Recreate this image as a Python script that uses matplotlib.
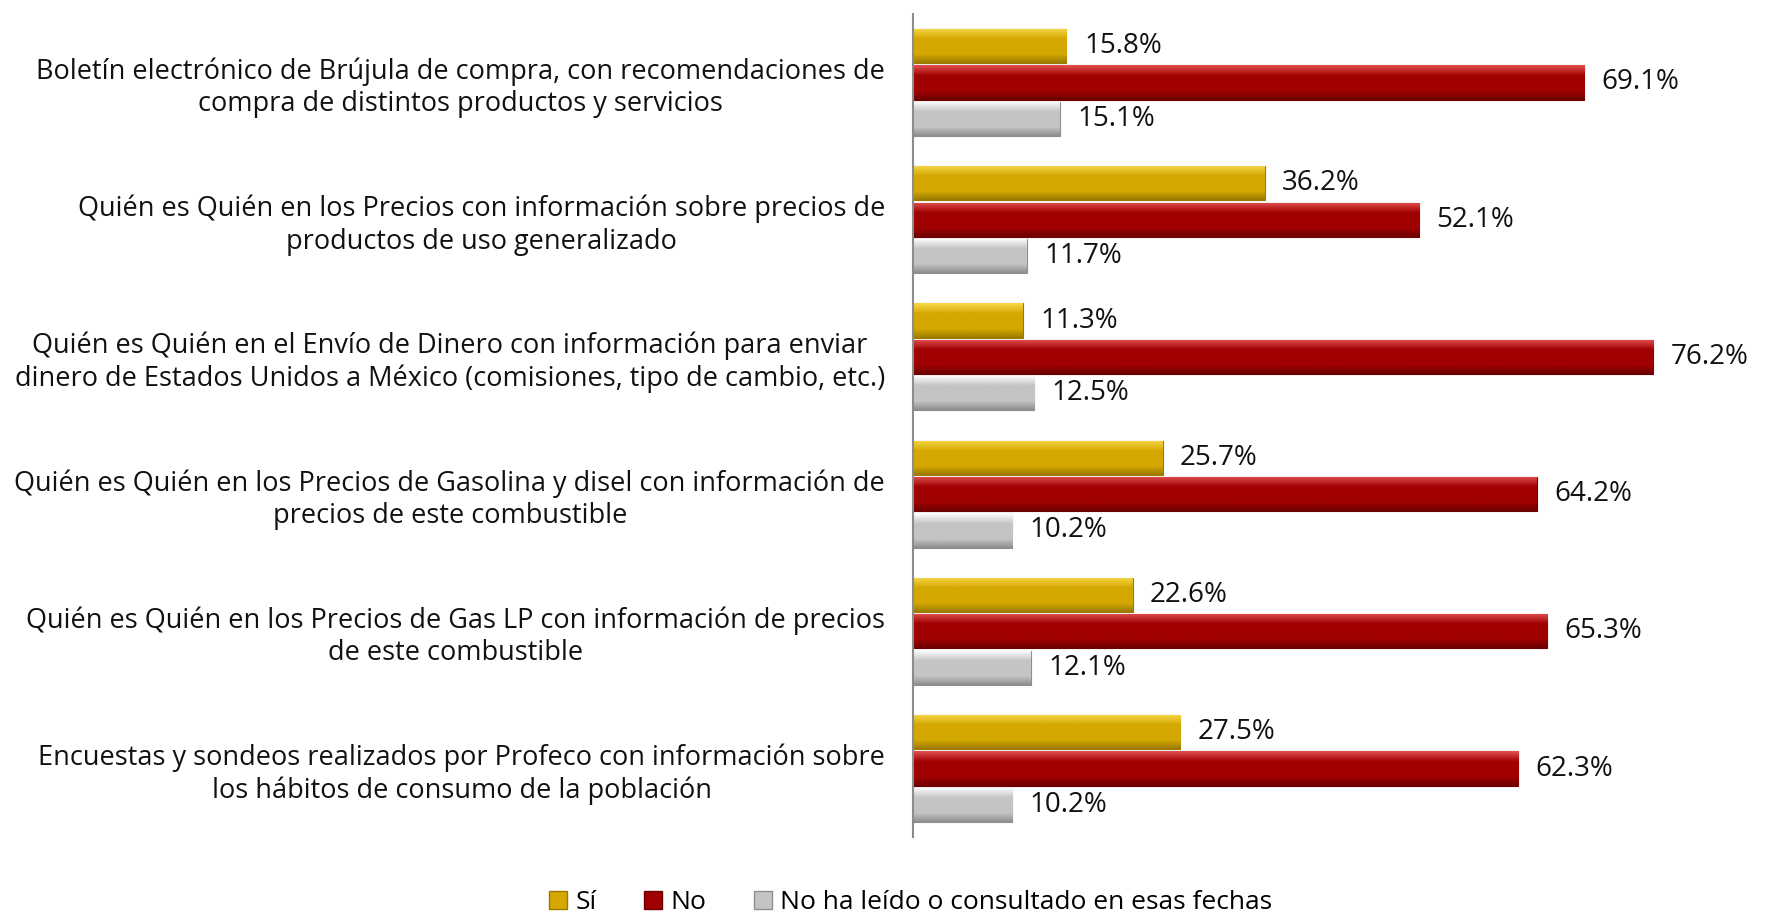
import matplotlib
matplotlib.use('Agg')
import matplotlib.pyplot as plt
import numpy as np
from matplotlib.patches import Patch
from matplotlib.colors import LinearSegmentedColormap

plt.rcParams['font.family'] = ['Open Sans', 'DejaVu Sans']

categories = [
    'Boletín electrónico de Brújula de compra, con recomendaciones de\ncompra de distintos productos y servicios',
    'Quién es Quién en los Precios con información sobre precios de\nproductos de uso generalizado',
    'Quién es Quién en el Envío de Dinero con información para enviar\ndinero de Estados Unidos a México (comisiones, tipo de cambio, etc.)',
    'Quién es Quién en los Precios de Gasolina y disel con información de\nprecios de este combustible',
    'Quién es Quién en los Precios de Gas LP con información de precios\nde este combustible',
    'Encuestas y sondeos realizados por Profeco con información sobre\nlos hábitos de consumo de la población',
]
si = [15.8, 36.2, 11.3, 25.7, 22.6, 27.5]
no = [69.1, 52.1, 76.2, 64.2, 65.3, 62.3]
no_leido = [15.1, 11.7, 12.5, 10.2, 12.1, 10.2]
series_names = ['Sí', 'No', 'No ha leído o consultado en esas fechas']

# light, mid, dark shades for a bevel-like look
shades = [
    ('#f7d84a', '#d4a800', '#9c7a00'),
    ('#e25050', '#a00000', '#6e0000'),
    ('#ffffff', '#c4c4c4', '#8e8e8e'),
]

fig = plt.figure(figsize=(17.68, 9.23), dpi=100)
fig.patch.set_facecolor('#ffffff')
ax = fig.add_axes([0.5164, 0.093, 0.4395, 0.892])
ax.set_facecolor('none')

y = np.arange(len(categories))
step = 0.265
h = 0.25
all_series = [si, no, no_leido]


def shade_bar(patch, colors):
    x0, y0 = patch.get_x(), patch.get_y()
    w, hh = patch.get_width(), patch.get_height()
    t = np.linspace(0, 1, 64)
    cmap = LinearSegmentedColormap.from_list(
        'g', [(0, colors[0]), (0.3, colors[1]), (0.75, colors[1]), (1, colors[2])])
    img = t.reshape(-1, 1)
    im = ax.imshow(img, cmap=cmap, aspect='auto', extent=(x0, x0 + w, y0 + hh, y0),
                   origin='upper', zorder=2, interpolation='bilinear')
    im.set_clip_path(patch)


for i, vals in enumerate(all_series):
    pos = y + (i - 1) * step
    bars = ax.barh(pos, vals, height=h, color=shades[i][1], edgecolor=shades[i][2],
                   linewidth=0.8, zorder=1)
    for b, v in zip(bars, vals):
        shade_bar(b, shades[i])
        ax.text(v + 1.8, b.get_y() + b.get_height() / 2, f'{v:.1f}%',
                va='center', ha='left', fontsize=20, color='#111111', zorder=3)

ax.set_xlim(0, 80)
ax.set_ylim(len(categories) - 0.5, -0.5)
ax.set_yticks(y)
ax.set_yticklabels(categories, fontsize=19.5, multialignment='center', color='#111111',
                   linespacing=1.2)
ax.tick_params(axis='y', length=0, pad=20)
ax.set_xticks([])
for s in ['top', 'right', 'bottom']:
    ax.spines[s].set_visible(False)
ax.spines['left'].set_color('#8c8c8c')
ax.spines['left'].set_linewidth(1.5)

handles = [Patch(facecolor=shades[i][1], edgecolor=shades[i][2], label=series_names[i])
           for i in range(3)]
fig.legend(handles=handles, loc='center', bbox_to_anchor=(0.515, 0.022), ncol=3,
           frameon=False, fontsize=19, handlelength=0.7, handleheight=0.7,
           handletextpad=0.3, columnspacing=1.8)

fig.savefig('out.png', dpi=100, facecolor=fig.get_facecolor())
